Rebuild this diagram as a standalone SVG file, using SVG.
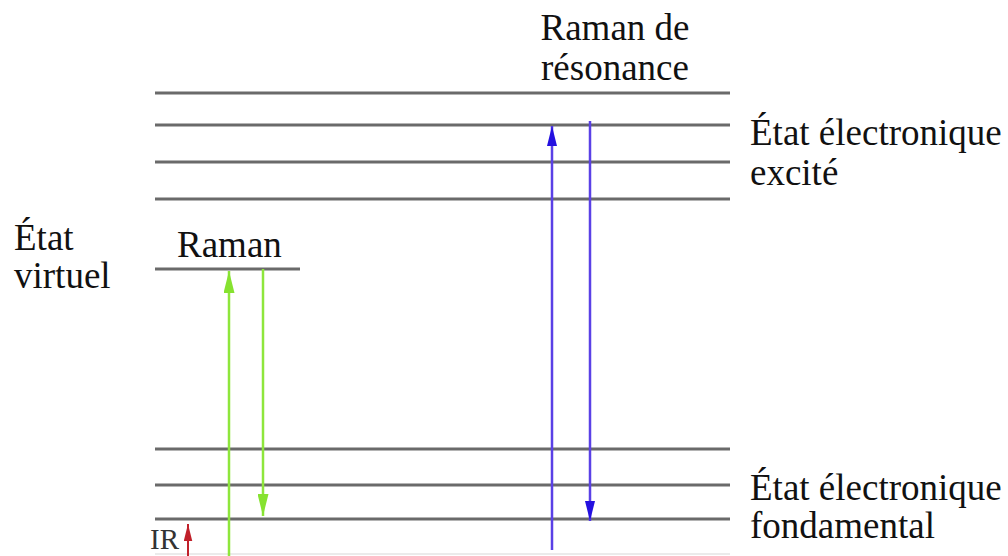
<svg xmlns="http://www.w3.org/2000/svg" width="1008" height="556" viewBox="0 0 1008 556">
  <style>
    .lvl { stroke: #6a6a6a; stroke-width: 3; }
    .lbl { font-family: 'Liberation Serif', 'Times New Roman', Times, 'DejaVu Serif', serif; font-size: 37px; fill: #111; }
    .green { stroke: #8ee63c; stroke-width: 2.5; }
    .blue { stroke: #5a40e6; stroke-width: 2.5; }
    .red { stroke: #c0202a; stroke-width: 2; }
  </style>
  <defs>
    <marker id="ahG" viewBox="0 0 20 10" refX="20" refY="5" markerWidth="22" markerHeight="11" orient="auto" markerUnits="userSpaceOnUse">
      <path d="M0,0 L20,5 L0,10 z" fill="#86e230"/>
    </marker>
    <marker id="ahB" viewBox="0 0 20 10" refX="20" refY="5" markerWidth="20" markerHeight="10" orient="auto" markerUnits="userSpaceOnUse">
      <path d="M0,0 L20,5 L0,10 z" fill="#2410e0"/>
    </marker>
    <marker id="ahR" viewBox="0 0 20 10" refX="20" refY="5" markerWidth="17" markerHeight="9" orient="auto" markerUnits="userSpaceOnUse">
      <path d="M0,0 L20,5 L0,10 z" fill="#c0202a"/>
    </marker>
  </defs>
  <rect width="1008" height="556" fill="#fff"/>

  <!-- excited electronic state levels -->
  <g id="excited-levels">
    <line class="lvl" x1="155" y1="93" x2="730" y2="93"/>
    <line class="lvl" x1="155" y1="125" x2="730" y2="125"/>
    <line class="lvl" x1="155" y1="162" x2="730" y2="162"/>
    <line class="lvl" x1="155" y1="199" x2="730" y2="199"/>
  </g>

  <!-- virtual state -->
  <g id="virtual-level">
    <line class="lvl" x1="155" y1="269" x2="300" y2="269"/>
  </g>

  <!-- ground electronic state levels -->
  <g id="ground-levels">
    <line class="lvl" x1="155" y1="449" x2="730" y2="449"/>
    <line class="lvl" x1="155" y1="485" x2="730" y2="485"/>
    <line class="lvl" x1="155" y1="519" x2="730" y2="519"/>
    <line x1="155" y1="554" x2="730" y2="554" stroke="#e4e4e4" stroke-width="1.5"/>
  </g>

  <!-- transitions -->
  <g id="connectors">
    <line class="green" x1="229" y1="556" x2="229" y2="271" marker-end="url(#ahG)"/>
    <line class="green" x1="263" y1="269" x2="263" y2="516" marker-end="url(#ahG)"/>
    <line class="blue" x1="552" y1="550" x2="552" y2="126" marker-end="url(#ahB)"/>
    <line class="blue" x1="590" y1="121" x2="590" y2="521" marker-end="url(#ahB)"/>
    <line class="red" x1="188" y1="556" x2="188" y2="524" marker-end="url(#ahR)"/>
  </g>

  <!-- labels -->
  <g id="label-resonance">
    <text class="lbl" x="615" y="40" text-anchor="middle">Raman de</text>
    <text class="lbl" x="615" y="80" text-anchor="middle">résonance</text>
  </g>
  <g id="label-excited">
    <text class="lbl" x="750" y="145">État électronique</text>
    <text class="lbl" x="750" y="185">excité</text>
  </g>
  <g id="label-virtual">
    <text class="lbl" x="14" y="250">État</text>
    <text class="lbl" x="14" y="288">virtuel</text>
  </g>
  <g id="label-raman">
    <text class="lbl" x="177" y="257">Raman</text>
  </g>
  <g id="label-ground">
    <text class="lbl" x="750" y="500">État électronique</text>
    <text class="lbl" x="750" y="538">fondamental</text>
  </g>
  <g id="label-ir">
    <text x="150" y="549" font-family="'Liberation Serif', 'DejaVu Serif', serif" font-size="29" fill="#333">IR</text>
  </g>
</svg>
